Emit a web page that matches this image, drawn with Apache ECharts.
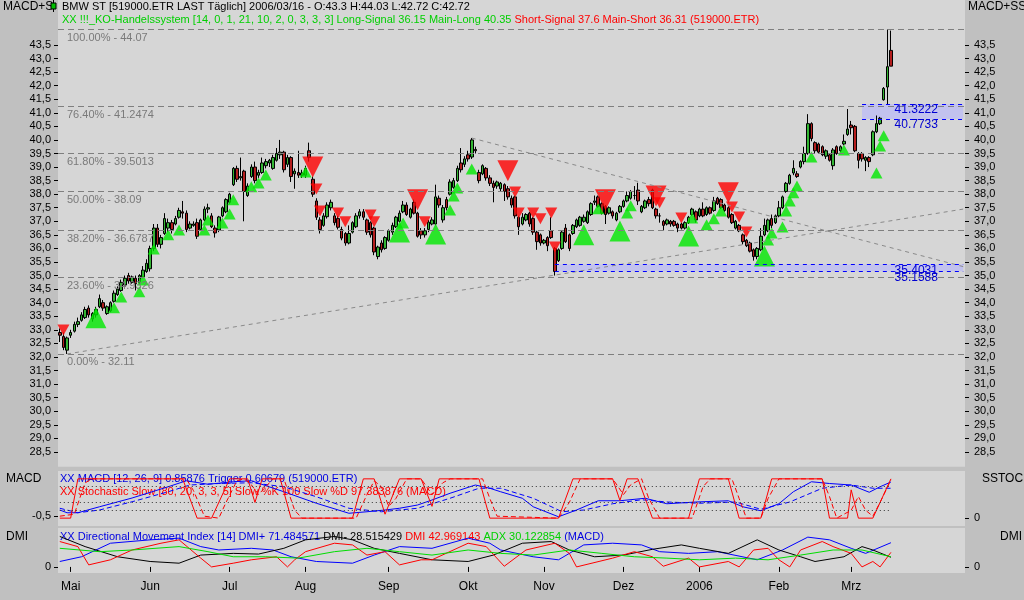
<!DOCTYPE html>
<html><head><meta charset="utf-8">
<script src="https://cdn.jsdelivr.net/npm/echarts@6/dist/echarts.min.js"></script>
<style>html,body{margin:0;padding:0;background:#c0c0c0;}#c{width:1024px;height:600px;}</style>
</head><body><div id="c"></div>
<script>
// ---------- DATA ----------
// daily candles [open, close, low, high], 2005-04-27 .. 2006-03-16
const ohlc = [
[32.9,32.8,32.55,33.05],[32.75,32.35,32.25,32.9],[32.25,32.7,32.11,32.75],[32.8,32.9,32.7,33.0],[32.95,33.2,32.9,33.3],
[33.2,33.3,33.1,33.45],[33.35,33.55,33.3,33.65],[33.45,33.75,33.4,33.85],[33.8,33.55,33.45,33.9],[33.4,33.6,33.3,33.65],
[33.55,33.75,33.45,33.85],[33.85,34.15,33.8,34.3],[34.0,33.8,33.7,34.1],[33.6,33.85,33.55,33.9],[33.7,34.0,33.65,34.05],
[34.05,34.35,34.0,34.45],[34.3,34.5,34.25,34.6],[34.45,34.75,34.4,34.85],[34.65,34.9,34.6,35.0],[35.0,34.8,34.7,35.1],
[34.75,34.95,34.7,35.0],[34.9,34.7,34.45,35.0],[34.75,35.0,34.7,35.05],[34.95,35.2,34.9,35.35],[35.15,35.45,35.1,35.6],
[35.25,36.0,35.15,36.1],[36.0,36.75,35.9,36.9],[36.75,36.15,36.05,36.9],[36.15,36.4,36.0,36.5],[36.55,37.1,36.5,37.3],
[36.75,36.95,36.6,37.1],[36.95,36.7,36.55,37.05],[36.9,37.1,36.85,37.2],[37.15,37.4,37.1,37.5],[37.35,37.3,37.1,37.75],
[37.3,36.7,36.6,37.4],[36.75,36.9,36.7,37.0],[36.85,36.9,36.8,37.0],[36.95,36.45,36.35,37.1],[36.7,37.05,36.65,37.1],
[37.05,37.45,37.0,37.55],[37.45,37.5,37.3,37.65],[37.2,36.8,36.75,37.3],[36.75,36.57,36.4,36.85],[36.68,37.16,36.6,37.2],
[37.2,37.5,37.15,37.55],[37.35,37.8,37.3,37.85],[37.7,38.0,37.65,38.05],[38.35,38.95,38.3,39.0],[38.95,38.55,38.45,39.05],
[38.6,38.65,38.5,39.35],[38.85,38.1,37.0,38.9],[37.95,38.3,37.9,38.4],[38.65,39.0,38.6,39.1],[39.0,38.5,38.4,39.2],
[38.7,38.8,38.6,38.9],[38.8,39.15,38.75,39.35],[39.05,39.2,38.95,39.3],[39.15,39.25,39.0,39.3],[38.95,39.35,38.9,39.45],
[39.25,39.5,39.2,39.7],[39.45,39.55,39.3,40.0],[39.55,38.9,38.8,39.6],[39.1,39.35,39.0,39.45],[39.35,38.65,38.45,39.4],
[38.75,38.85,38.2,38.95],[38.8,38.7,38.6,39.6],[38.7,38.78,38.6,38.9],[38.7,38.95,38.6,39.05],[39.6,39.35,39.2,39.9],
[38.55,38.0,37.9,38.65],[37.75,37.15,37.05,37.85],[37.05,36.7,36.55,37.15],[36.85,37.2,36.8,37.3],[37.17,37.6,37.1,37.7],
[37.5,37.7,37.4,37.8],[37.2,36.95,36.85,37.3],[37.1,36.78,36.7,37.2],[36.7,36.38,36.3,36.8],[36.55,36.2,36.1,36.6],
[36.2,36.55,36.15,36.85],[36.6,36.95,36.55,37.0],[36.8,37.2,36.75,37.3],[37.2,37.35,37.1,37.45],[37.35,37.15,37.05,37.45],
[37.05,36.6,36.5,37.1],[36.95,36.5,36.4,37.0],[36.75,35.87,35.75,36.8],[35.7,36.05,35.6,36.1],[36.2,35.95,35.85,36.3],
[36.0,36.4,35.95,36.45],[36.3,36.65,36.25,36.7],[36.6,36.85,36.5,36.95],[36.8,37.15,36.75,37.2],[37.0,37.3,36.95,37.4],
[37.35,37.6,37.3,37.75],[37.6,37.25,37.2,37.7],[37.15,37.45,37.1,37.5],[37.7,37.3,37.25,37.8],[37.3,36.45,36.4,37.35],
[36.65,36.5,36.35,36.75],[36.5,36.65,36.4,36.75],[36.7,36.97,36.6,37.05],[36.9,37.05,36.85,37.15],[36.9,37.9,36.85,38.35],
[37.85,37.6,37.5,37.95],[37.05,37.5,36.95,37.6],[37.8,37.5,37.4,37.9],[38.0,38.45,37.95,38.55],[38.25,38.5,38.2,38.6],
[38.5,38.95,38.45,39.05],[39.15,38.9,38.8,39.7],[39.1,39.3,39.0,39.4],[39.45,39.3,39.2,39.6],[39.37,40.0,39.3,40.07],
[39.65,39.6,39.5,39.75],[38.8,38.5,38.4,38.9],[38.75,39.05,38.7,39.1],[38.95,38.6,38.5,39.0],[38.6,38.4,38.3,38.7],
[38.4,38.25,37.7,38.5],[38.3,38.45,38.2,38.5],[38.2,38.4,38.1,38.45],[38.35,38.1,37.75,38.4],[38.2,37.9,37.8,38.3],
[37.85,37.6,37.5,37.95],[37.9,37.2,37.1,37.95],[37.15,36.8,36.5,37.2],[36.9,37.15,36.85,37.3],[37.05,37.25,37.0,37.3],
[37.3,36.9,36.8,37.35],[37.1,36.6,36.5,37.15],[36.6,36.25,35.95,36.65],[36.5,36.2,36.1,36.55],[36.2,36.3,36.15,36.35],
[36.4,36.1,35.9,36.45],[36.65,36.4,36.35,37.15],[36.0,35.15,35.0,36.05],[35.55,35.95,35.5,36.0],[36.0,36.6,35.95,36.65],
[36.75,36.25,36.2,36.9],[36.5,36.0,35.9,36.55],[36.55,36.85,36.5,36.9],[36.8,37.05,36.75,37.1],[36.85,37.15,36.8,37.2],
[37.0,37.15,36.95,37.25],[36.95,37.35,36.9,37.4],[37.25,37.65,37.2,37.7],[37.7,37.75,37.6,37.95],[37.9,37.55,37.5,37.95],
[37.65,37.3,37.25,37.7],[37.55,37.25,36.9,37.6],[37.3,37.5,37.25,37.55],[37.35,37.2,37.1,37.4],[37.05,37.3,37.0,37.35],
[37.35,37.55,37.3,37.6],[37.55,37.75,37.5,37.8],[37.75,37.95,37.7,38.1],[37.85,38.1,37.8,38.15],[37.95,37.95,37.8,38.3],
[38.15,37.75,37.6,38.42],[37.35,37.55,37.3,37.6],[37.5,37.75,37.45,37.8],[37.8,37.65,37.55,37.9],[38.15,37.5,37.45,38.2],
[37.45,37.2,37.1,37.5],[37.2,37.2,36.95,37.3],[37.0,36.85,36.65,37.05],[36.9,37.05,36.85,37.1],[37.0,36.9,36.8,37.05],
[37.0,36.85,36.8,37.05],[36.9,36.75,36.6,36.95],[36.9,36.75,36.7,36.95],[36.75,36.95,36.7,37.0],[36.95,37.15,36.9,37.2],
[37.25,37.45,37.2,37.5],[37.35,37.05,36.95,37.4],[37.2,37.45,37.15,37.5],[37.45,37.2,37.15,37.7],[37.25,37.5,37.2,37.55],
[37.5,37.3,37.25,37.55],[37.4,37.75,37.35,37.9],[37.85,37.65,37.6,37.9],[37.8,37.5,37.45,37.85],[37.6,37.4,37.35,37.65],
[37.5,37.15,37.1,37.55],[37.25,36.95,36.9,37.3],[36.75,37.0,36.7,37.05],[36.85,36.65,36.6,36.9],[36.5,36.25,36.15,36.55],
[36.3,36.1,36.05,36.35],[36.2,35.9,35.85,36.25],[35.95,35.7,35.55,36.0],[35.7,36.0,35.6,36.05],[35.95,36.45,35.9,36.75],
[36.5,36.85,36.45,37.1],[36.65,37.05,36.6,37.1],[37.1,36.85,36.75,37.25],[36.95,37.2,36.9,37.25],[37.2,37.5,37.15,37.75],
[37.5,37.9,37.45,37.95],[38.1,38.4,38.05,38.45],[38.4,38.7,38.35,38.75],[38.78,38.95,38.7,39.25],[38.75,38.65,38.6,38.85],
[39.0,39.2,38.95,39.25],[39.2,39.5,39.1,39.75],[39.5,40.6,39.45,40.95],[40.6,40.05,39.95,40.65],[39.9,39.6,39.5,39.95],
[39.85,39.55,39.5,39.9],[39.75,39.45,39.4,39.8],[39.4,39.6,39.3,39.65],[39.45,39.25,39.2,39.5],[39.05,39.63,38.9,39.7],
[39.75,39.5,39.45,39.8],[39.6,39.75,39.55,39.8],[39.85,39.95,39.8,40.2],[40.2,40.4,40.15,41.14],[40.55,40.45,40.2,40.7],
[40.5,39.6,39.55,40.55],[39.5,39.25,38.95,39.55],[39.5,39.3,39.2,39.55],[39.25,39.35,38.85,39.4],[39.35,39.2,39.0,39.4],
[39.45,40.3,39.4,40.35],[40.3,40.6,40.25,40.9],[40.6,40.8,40.55,40.85],[41.48,41.9,41.45,41.95],[41.95,42.7,41.3,44.07],
[43.3,42.72,42.72,44.03]
];
// trading days (Xetra): weekdays from 2005-04-27 to 2006-03-16, without 2005-12-26
const dates = [];
(function(){let t=Date.UTC(2005,3,27);const end=Date.UTC(2006,2,16);
 while(t<=end){const d=new Date(t);const wd=d.getUTCDay();const s=d.toISOString().slice(0,10);
  if(wd!==0&&wd!==6&&s!=='2005-12-26')dates.push(s);t+=86400000;}})();
const padCount = 20;
const categories = dates.concat(Array.from({length:padCount},(_,i)=>'pad'+i));
const monthNames = ['Jan','Feb','Mrz','Apr','Mai','Jun','Jul','Aug','Sep','Okt','Nov','Dez'];
const priceTicks = [28.5,29,29.5,30,30.5,31,31.5,32,32.5,33,33.5,34,34.5,35,35.5,36,36.5,37,37.5,38,38.5,39,39.5,40,40.5,41,41.5,42,42.5,43,43.5];

// Fibonacci retracement 32.11 .. 44.07
const fibLevels = [44.07, 41.2474, 39.5013, 38.09, 36.6787, 34.9326, 32.11];
const fibLabels = ['100.00% - 44.07','76.40% - 41.2474','61.80% - 39.5013','50.00% - 38.09','38.20% - 36.6787','23.60% - 34.9326','0.00% - 32.11'];
// trend lines [[startIdx, startPrice],[endIdx, endPrice]]
const trendUp = [[2, 32.11],[250, 37.45]];
const trendDown = [[114, 40.07],[250, 35.33]];
// price zones [startIdx, upper, lower]
const zones = [[222, 41.3222, 40.7733],[137, 35.4031, 35.1588]];

// trading-system signals [index, price]
const longSignals = [[15,33.81],[17,34.21],[22,34.40],[23,34.84],[26,35.98],[30,36.50],[33,36.68],[40,36.68],[41,37.05],[45,36.94],[47,37.27],[48,37.79],[53,38.27],[55,38.41],[57,38.71],[68,38.82],[95,36.94],[108,37.42],[109,37.93],[110,38.23],[114,38.93],[149,37.46],[157,37.31],[158,37.57],[175,37.12],[179,36.87],[181,37.09],[183,37.38],[196,36.31],[197,36.57],[200,36.79],[201,37.38],[202,37.75],[203,38.05],[204,38.30],[208,39.37],[217,39.63],[226,38.78],[227,39.78],[228,40.15]];
const mainLongSignals = [[10,33.44],[94,36.61],[104,36.53],[145,36.50],[155,36.64],[174,36.46],[195,35.72]];
const shortSignals = [[1,32.99],[71,38.19],[72,37.38],[77,37.31],[79,36.98],[86,37.23],[87,36.98],[101,36.98],[126,38.08],[127,37.31],[131,37.31],[133,37.09],[136,37.31],[137,36.05],[166,37.68],[172,37.12],[186,37.53],[188,37.16],[190,36.61]];
const mainShortSignals = [[70,39.0],[99,37.79],[124,38.86],[151,37.79],[165,37.93],[185,38.05]];

// MACD (12,26,9) and trigger, sampled [index, value]
const macd = [[0,-0.26],[2,-0.37],[5,-0.37],[11,-0.13],[20,0.22],[30,0.67],[35,0.91],[41,0.77],[48,0.87],[53,0.91],[62,0.47],[71,0.01],[80,-0.39],[85,-0.33],[90,-0.26],[94,-0.19],[99,-0.06],[103,0.14],[108,0.41],[115,0.74],[119,0.61],[122,0.47],[128,0.21],[131,-0.13],[138,-0.53],[143,-0.26],[149,0.11],[155,0.11],[162,0.21],[168,-0.01],[176,0.06],[185,0.11],[189,-0.13],[194,-0.29],[199,-0.01],[203,0.47],[208,0.87],[213,0.8],[219,0.74],[224,0.45],[227,0.67],[230,0.86]];
const trigger = [[0,-0.19],[5,-0.37],[11,-0.26],[20,0.07],[30,0.47],[36,0.74],[44,0.8],[53,0.83],[62,0.67],[71,0.27],[80,-0.19],[89,-0.33],[99,-0.19],[108,0.21],[116,0.61],[122,0.61],[131,0.21],[139,-0.33],[145,-0.26],[153,-0.01],[161,0.15],[168,0.06],[177,0.01],[187,0.06],[194,-0.23],[202,0.06],[211,0.61],[219,0.74],[225,0.61],[230,0.61]];
// Stochastic slow %K / %D
const stochK = [[0,0],[3,0],[5,100],[34,100],[38,0],[42,0],[47,100],[52,100],[54,40],[56,100],[61,100],[64,0],[81,0],[84,100],[87,100],[90,10],[94,100],[100,100],[103,30],[105,100],[116,100],[119,0],[138,0],[142,100],[153,100],[155,45],[157,100],[160,100],[164,0],[174,0],[177,100],[185,100],[188,0],[194,0],[197,100],[211,100],[213,0],[218,0],[219,72],[221,0],[225,0],[230,100]];
const stochD = [[0,5],[4,10],[7,90],[9,100],[35,100],[37,70],[40,5],[44,0],[46,40],[49,95],[51,100],[53,85],[55,60],[57,80],[59,100],[62,100],[65,20],[67,0],[82,0],[85,60],[87,95],[89,80],[91,30],[93,50],[96,100],[100,100],[103,60],[106,90],[108,100],[117,100],[119,50],[121,5],[138,0],[141,40],[144,100],[153,100],[156,60],[158,85],[161,100],[163,50],[166,0],[175,0],[178,80],[180,100],[186,100],[188,50],[190,0],[194,0],[196,50],[199,100],[211,100],[213,55],[215,0],[219,20],[221,55],[223,20],[225,5],[227,40],[230,97.4]];
const stochLevels = [80, 40, 20];
// Directional Movement Index (14)
const dmiPlus = [[0,16],[6,30],[14,70],[25,80],[33,85],[39,60],[44,50],[53,55],[59,50],[64,30],[71,16],[81,11],[87,35],[94,60],[103,55],[113,85],[119,70],[122,50],[131,30],[138,21],[145,65],[153,70],[161,65],[166,45],[174,40],[182,45],[193,21],[200,50],[207,88],[213,80],[219,55],[223,40],[230,71.5]];
const dmiMinus = [[0,90],[7,60],[16,30],[25,16],[33,11],[39,35],[48,40],[55,38],[62,55],[68,80],[76,90],[81,80],[87,55],[94,40],[103,21],[113,16],[120,35],[128,70],[136,75],[141,50],[148,30],[156,35],[164,52],[172,65],[177,55],[185,40],[193,80],[199,50],[205,30],[209,16],[217,30],[222,60],[225,50],[230,28.5]];
const dmi = [[0,75],[5,60],[8,6],[14,21],[20,50],[28,70],[33,80],[39,26],[42,0],[48,11],[53,21],[60,30],[63,0],[65,21],[68,45],[76,70],[81,65],[85,35],[90,45],[94,6],[100,21],[103,21],[113,70],[118,60],[123,2],[129,50],[137,70],[141,40],[143,0],[153,26],[159,45],[164,30],[167,2],[174,26],[177,0],[185,16],[188,0],[192,50],[196,55],[199,21],[202,0],[205,50],[211,75],[214,60],[219,40],[222,0],[225,16],[227,0],[230,43]];
const adx = [[0,55],[11,45],[20,50],[33,60],[41,45],[48,30],[57,30],[66,26],[76,45],[85,55],[94,45],[103,35],[113,50],[122,40],[131,35],[141,50],[150,40],[159,30],[168,26],[177,21],[187,26],[196,21],[205,35],[214,50],[222,50],[230,30]];

// ---------- CHART ----------
const FONT = '"Liberation Sans", Arial, sans-serif';
const TF = 11;
const GL = 58, GR = 59;
const chart = echarts.init(document.getElementById('c'), null, {renderer:'canvas'});
const fmt = v => v.toFixed(1).replace('.', ',');
const isMonthStart = i => i > 0 && i < dates.length && dates[i].slice(5,7) !== dates[i-1].slice(5,7);

const fibMark = fibLevels.map((v,i) => ({
  yAxis: v,
  lineStyle:{type:[6,4], color:'#7f7f7f', width:1},
  label:{show:true, formatter: fibLabels[i], position:'insideStartBottom', color:'#7a7a7a', fontSize:11, fontFamily:FONT, distance:[9,3]}
}));
const seg = (a,b,color) => [{coord:a, lineStyle:{type:[4,4], color:color, width:1}, label:{show:false}}, {coord:b}];
const zoneLines = [];
const zoneLabels = [];
zones.forEach(z => {
  zoneLines.push(seg([z[0], z[1]], [250, z[1]], '#0000ff'));
  zoneLines.push(seg([z[0], z[2]], [250, z[2]], '#0000ff'));
  zoneLabels.push({coord:[231, z[1]], name: z[1].toFixed(4)});
  zoneLabels.push({coord:[231, z[2]], name: z[2].toFixed(4)});
});

const xCat = (gi, extra) => Object.assign({
  type:'category', gridIndex:gi, data:categories, boundaryGap:true,
  axisLine:{show:false}, axisTick:{show:false}, axisLabel:{show:false}, splitLine:{show:false}
}, extra||{});

const valAxis = (gi, pos, min, max, vals, fmtFn, extra) => Object.assign({
  type:'value', gridIndex:gi, position:pos, min:min, max:max, scale:true,
  splitLine:{show:false}, axisLine:{show:false},
  axisTick:{show:true, length:4, customValues:vals, lineStyle:{color:'#000'}},
  axisLabel:{show:true, customValues:vals, formatter:fmtFn, color:'#000', fontSize:11, fontFamily:FONT, margin:pos==='left'?7:9}
}, extra||{});

const option = {
  animation:false,
  backgroundColor:'#c0c0c0',
  grid:[
    {left:GL, right:GR, top:28.7, height:438.1, show:true, backgroundColor:'#d6d6d6', borderWidth:0},
    {left:GL, right:GR, top:471, height:55, show:true, backgroundColor:'#d6d6d6', borderWidth:0},
    {left:GL, right:GR, top:528, height:45, show:true, backgroundColor:'#d6d6d6', borderWidth:0}
  ],
  xAxis:[
    xCat(0), xCat(1),
    xCat(2, {offset:4,
      axisTick:{show:true, length:5, alignWithLabel:true, interval:(i)=>isMonthStart(i), lineStyle:{color:'#000'}},
      axisLabel:{show:true, interval:(i)=>isMonthStart(i), margin:4, color:'#000', fontSize:12, fontFamily:FONT,
        formatter:(v)=>{const m=+v.slice(5,7); return m===1 ? v.slice(0,4) : monthNames[m-1];}}})
  ],
  yAxis:[
    valAxis(0,'left',27.95,44.1,priceTicks,fmt),
    valAxis(0,'right',27.95,44.1,priceTicks,fmt),
    valAxis(1,'left',-0.9,1.3,[-0.5],v=>fmt(v)),
    valAxis(1,'right',-20,120,[0],()=> '0'),
    valAxis(2,'left',-18,115,[0],()=> '0'),
    valAxis(2,'right',-18,115,[0],()=> '0')
  ],
  graphic:[
    {type:'rect', z:0, shape:{x:GL, y:0, width:1024-GL-GR, height:29}, style:{fill:'#d6d6d6'}},
    {type:'text', z:5, x:3, y:1, style:{text:'MACD+SSTOC', width:54, overflow:'truncate', ellipsis:'', fill:'#000', fontSize:12, fontFamily:FONT}},
    {type:'text', z:5, x:968, y:1, style:{text:'MACD+SSTOC', fill:'#000', fontSize:12, fontFamily:FONT}},
    {type:'line', z:5, shape:{x1:53.5, y1:0, x2:53.5, y2:12}, style:{stroke:'#000', lineWidth:1}},
    {type:'rect', z:6, shape:{x:51, y:3, width:5, height:6}, style:{fill:'#00c000', stroke:'#000', lineWidth:1}},
    {type:'text', z:5, x:62, y:1, style:{text:'BMW ST [519000.ETR LAST Täglich] 2006/03/16 - O:43.3 H:44.03 L:42.72 C:42.72', fill:'#000', fontSize:TF, fontFamily:FONT}},
    {type:'text', z:5, x:62, y:14, style:{
      text:'{g|XX !!!_KO-Handelssystem [14, 0, 1, 21, 10, 2, 0, 3, 3, 3] Long-Signal 36.15 Main-Long 40.35} {r|Short-Signal 37.6 Main-Short 36.31 (519000.ETR)}',
      fontSize:TF, fontFamily:FONT,
      rich:{g:{fill:'#00d000', fontSize:TF, fontFamily:FONT}, r:{fill:'#ff0000', fontSize:TF, fontFamily:FONT}}}},
    {type:'text', z:5, x:6, y:473, style:{text:'MACD', fill:'#000', fontSize:12, fontFamily:FONT}},
    {type:'text', z:5, x:982, y:473, style:{text:'SSTOC', fill:'#000', fontSize:12, fontFamily:FONT}},
    {type:'text', z:5, x:6, y:531, style:{text:'DMI', fill:'#000', fontSize:12, fontFamily:FONT}},
    {type:'text', z:5, x:1000, y:531, style:{text:'DMI', fill:'#000', fontSize:12, fontFamily:FONT}},
    {type:'text', z:1, x:60, y:473, style:{text:'XX MACD [12, 26, 9] 0.85876 Trigger 0.60679 (519000.ETR)', fill:'#0000e0', fontSize:TF, fontFamily:FONT}},
    {type:'text', z:1, x:60, y:486, style:{text:'XX Stochastic Slow [80, 20, 3, 3, 5] Slow %K 100 Slow %D 97.383876 (MACD)', fill:'#ff0000', fontSize:TF, fontFamily:FONT}},
    {type:'text', z:1, x:60, y:531, style:{
      text:'{b|XX Directional Movement Index [14] DMI+ 71.484571} {k|DMI- 28.515429} {r|DMI 42.969143} {g|ADX 30.122854} {b|(MACD)}',
      fontSize:TF, fontFamily:FONT,
      rich:{b:{fill:'#0000e0',fontSize:TF,fontFamily:FONT}, k:{fill:'#000',fontSize:TF,fontFamily:FONT}, r:{fill:'#ff0000',fontSize:TF,fontFamily:FONT}, g:{fill:'#00d000',fontSize:TF,fontFamily:FONT}}}}
  ],
  series:[
    {type:'candlestick', name:'BMW ST', xAxisIndex:0, yAxisIndex:0, data:ohlc, barWidth:3, z:3,
      itemStyle:{color:'#33b533', color0:'#b41e1e', borderColor:'#000', borderColor0:'#000', borderWidth:1},
      markLine:{silent:true, symbol:['none','none'], animation:false,
        data: fibMark.concat([seg(trendUp[0], trendUp[1], '#8a8a8a'), seg(trendDown[0], trendDown[1], '#8a8a8a')]).concat(zoneLines)},
      markArea:{silent:true, itemStyle:{color:'#c2c2ee'},
        data: zones.map(z => [{coord:[z[0], z[1]]}, {coord:[250, z[2]]}])},
      markPoint:{silent:true, symbol:'rect', symbolSize:0,
        label:{show:true, position:[0,0], align:'left', verticalAlign:'top', formatter:p=>p.name, color:'#0000d0', fontSize:12, fontFamily:FONT},
        data: zoneLabels}
    },
    {type:'scatter', name:'Long', xAxisIndex:0, yAxisIndex:0, data:longSignals, symbol:'triangle', symbolSize:[12,11], z:4, itemStyle:{color:'#00e800'}},
    {type:'scatter', name:'Main-Long', xAxisIndex:0, yAxisIndex:0, data:mainLongSignals, symbol:'triangle', symbolSize:[21,21], z:4, itemStyle:{color:'#00e800'}},
    {type:'scatter', name:'Short', xAxisIndex:0, yAxisIndex:0, data:shortSignals, symbol:'triangle', symbolRotate:180, symbolSize:[12,11], z:4, itemStyle:{color:'#ff0000'}},
    {type:'scatter', name:'Main-Short', xAxisIndex:0, yAxisIndex:0, data:mainShortSignals, symbol:'triangle', symbolRotate:180, symbolSize:[21,21], z:4, itemStyle:{color:'#ff0000'}},
    {type:'line', name:'MACD', xAxisIndex:1, yAxisIndex:2, data:macd, showSymbol:false, lineStyle:{color:'#0000ff', width:1}},
    {type:'line', name:'Trigger', xAxisIndex:1, yAxisIndex:2, data:trigger, showSymbol:false, lineStyle:{color:'#0000ff', width:1, type:[5,3]}},
    {type:'line', name:'%K', xAxisIndex:1, yAxisIndex:3, data:stochK, showSymbol:false, lineStyle:{color:'#ff0000', width:1},
      markLine:{silent:true, symbol:['none','none'], label:{show:false},
        data: stochLevels.map(v => [{coord:[0, v], lineStyle:{type:[1,3], color:'#333', width:1}}, {coord:[230, v]}])}},
    {type:'line', name:'%D', xAxisIndex:1, yAxisIndex:3, data:stochD, showSymbol:false, lineStyle:{color:'#ff0000', width:1, type:[5,3]}},
    {type:'line', name:'DMI+', xAxisIndex:2, yAxisIndex:4, data:dmiPlus, showSymbol:false, lineStyle:{color:'#0000ff', width:1}},
    {type:'line', name:'DMI-', xAxisIndex:2, yAxisIndex:4, data:dmiMinus, showSymbol:false, lineStyle:{color:'#000', width:1}},
    {type:'line', name:'DMI', xAxisIndex:2, yAxisIndex:4, data:dmi, showSymbol:false, lineStyle:{color:'#ff0000', width:1}},
    {type:'line', name:'ADX', xAxisIndex:2, yAxisIndex:4, data:adx, showSymbol:false, lineStyle:{color:'#00dd00', width:1}}
  ]
};
chart.setOption(option);
</script></body></html>
